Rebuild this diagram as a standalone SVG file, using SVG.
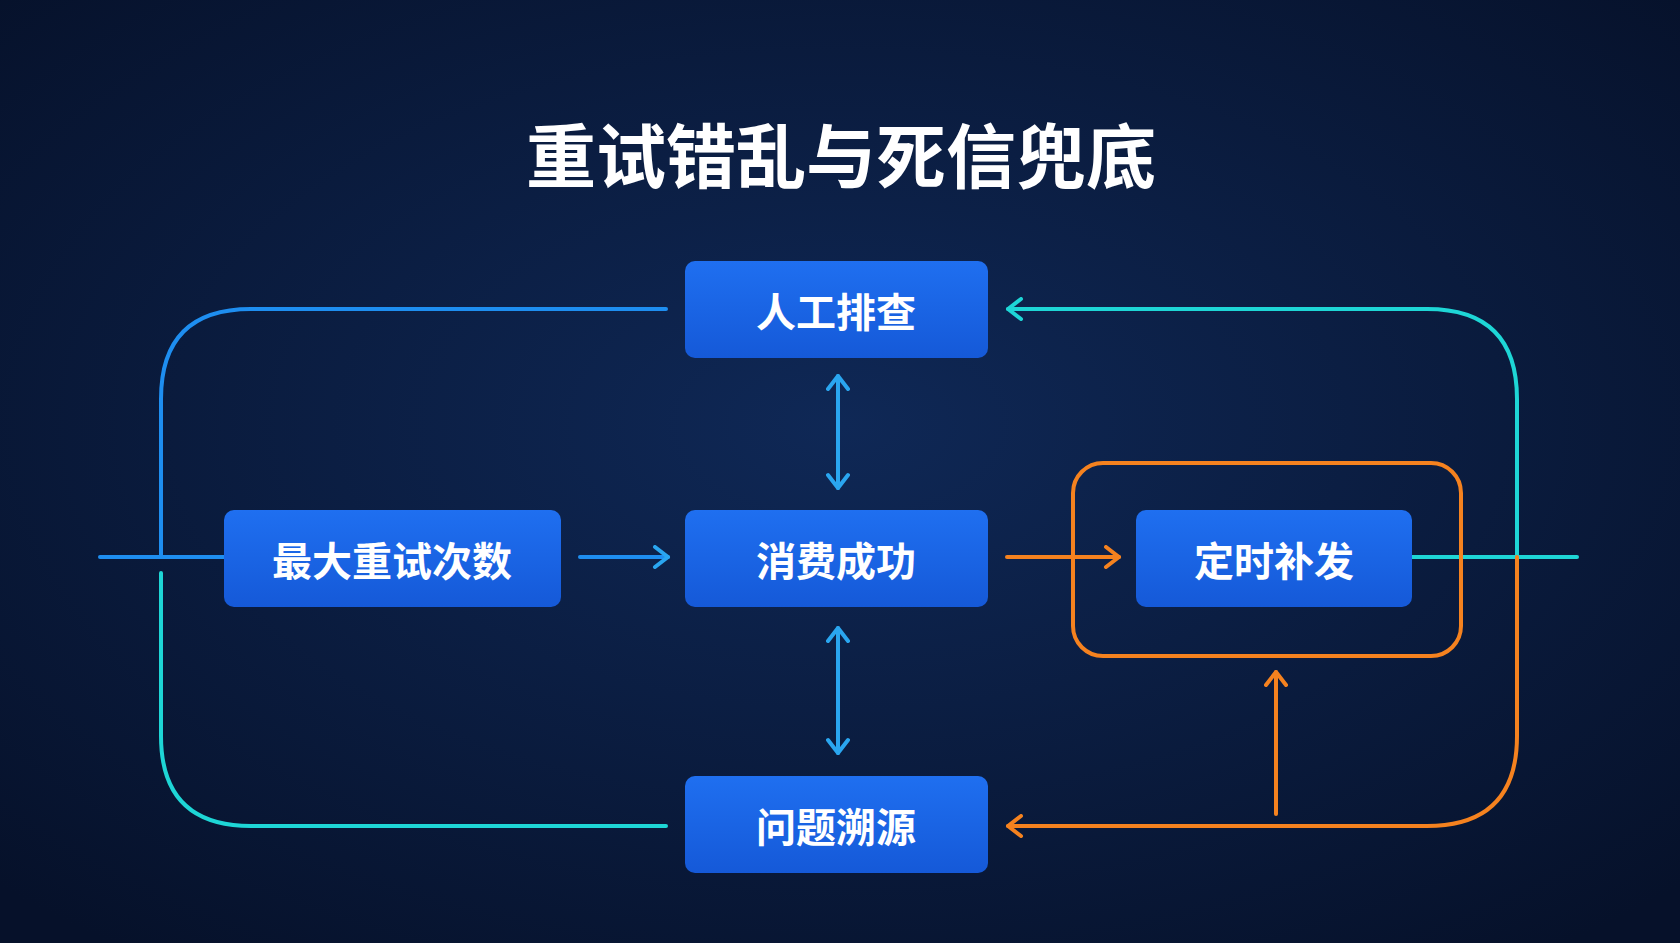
<svg xmlns="http://www.w3.org/2000/svg" width="1680" height="943" viewBox="0 0 1680 943">
<defs>
<radialGradient id="bg" cx="0.5" cy="0.45" r="0.7">
<stop offset="0" stop-color="#0f2856"/><stop offset="1" stop-color="#06112a"/>
</radialGradient>
<linearGradient id="box" x1="0" y1="0" x2="0" y2="1">
<stop offset="0" stop-color="#1f6ff0"/><stop offset="1" stop-color="#1559d8"/>
</linearGradient>
<marker id="ab" viewBox="0 0 24 24" refX="21" refY="12" markerWidth="24" markerHeight="24" markerUnits="userSpaceOnUse" orient="auto-start-reverse"><path d="M8,2 L21,12 L8,22" fill="none" stroke="#2aa6f0" stroke-width="4" stroke-linecap="round" stroke-linejoin="round"/></marker>
<marker id="ac" viewBox="0 0 24 24" refX="21" refY="12" markerWidth="24" markerHeight="24" markerUnits="userSpaceOnUse" orient="auto-start-reverse"><path d="M8,2 L21,12 L8,22" fill="none" stroke="#1ed6d6" stroke-width="4" stroke-linecap="round" stroke-linejoin="round"/></marker>
<marker id="ao" viewBox="0 0 24 24" refX="21" refY="12" markerWidth="24" markerHeight="24" markerUnits="userSpaceOnUse" orient="auto-start-reverse"><path d="M8,2 L21,12 L8,22" fill="none" stroke="#f5821f" stroke-width="4" stroke-linecap="round" stroke-linejoin="round"/></marker>
</defs>
<style>
.b{fill:url(#box)}
.t{font-family:"Noto Sans CJK SC",sans-serif;font-weight:700;fill:#fff;text-anchor:middle;dominant-baseline:central}
.l{fill:none;stroke-width:4;stroke-linecap:round}
.blue{stroke:#1e8ef0}.cy{stroke:#1ed6d6}.or{stroke:#f5821f}.sk{stroke:#2aa6f0}
</style>
<rect width="1680" height="943" fill="url(#bg)"/>
<text x="841" y="152" class="t" font-size="70">重试错乱与死信兜底</text>
<g id="connectors">
<path class="l blue" d="M100,557 H224"/>
<path class="l blue" d="M666,309 H251 Q161,309 161,399 V557"/>
<path class="l cy" d="M161,573 V736 Q161,826 251,826 H666"/>
<path class="l cy" d="M1517,557 V399 Q1517,309 1427,309 H1008" marker-end="url(#ac)"/>
<path class="l cy" d="M1412,557 H1577"/>
<path class="l or" d="M1517,557 V736 Q1517,826 1427,826 H1008" marker-end="url(#ao)"/>
<path class="l or" d="M1276,814 V672" marker-end="url(#ao)"/>
<path class="l or" d="M1007,557 H1119" marker-end="url(#ao)"/>
<path class="l blue" d="M580,557 H668" marker-end="url(#ab)"/>
<path class="l sk" d="M838,376 V488" marker-start="url(#ab)" marker-end="url(#ab)"/>
<path class="l sk" d="M838,628 V753" marker-start="url(#ab)" marker-end="url(#ab)"/>
<rect x="1073" y="463" width="388" height="193" rx="30" class="l or"/>
</g>
<g id="n1"><rect class="b" x="685" y="261" width="303" height="97" rx="10"/><text class="t" x="836" y="310" font-size="40">人工排查</text></g>
<g id="n2"><rect class="b" x="224" y="510" width="337" height="97" rx="10"/><text class="t" x="392" y="559" font-size="40">最大重试次数</text></g>
<g id="n3"><rect class="b" x="685" y="510" width="303" height="97" rx="10"/><text class="t" x="836" y="559" font-size="40">消费成功</text></g>
<g id="n4"><rect class="b" x="1136" y="510" width="276" height="97" rx="10"/><text class="t" x="1274" y="559" font-size="40">定时补发</text></g>
<g id="n5"><rect class="b" x="685" y="776" width="303" height="97" rx="10"/><text class="t" x="836" y="825" font-size="40">问题溯源</text></g>
</svg>
